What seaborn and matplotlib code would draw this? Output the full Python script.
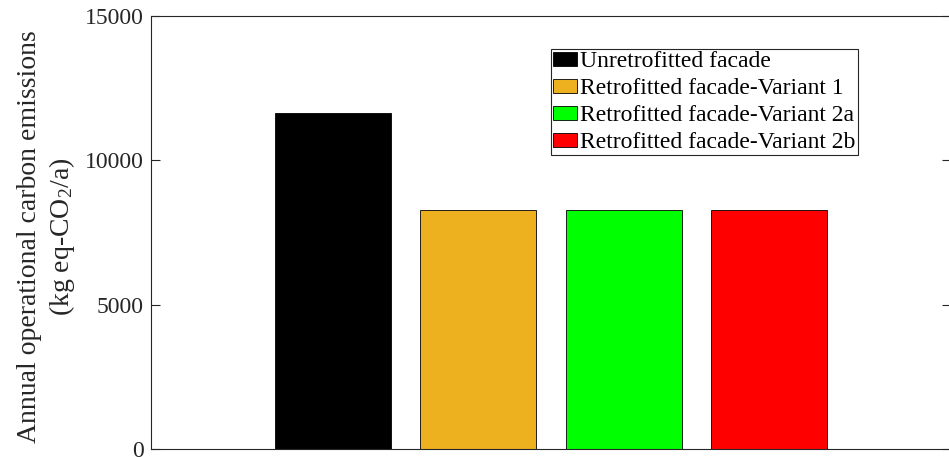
import matplotlib
matplotlib.use("Agg")
import matplotlib.pyplot as plt
import seaborn as sns
import pandas as pd

categories = [
    "Unretrofitted facade",
    "Retrofitted facade-Variant 1",
    "Retrofitted facade-Variant 2a",
    "Retrofitted facade-Variant 2b",
]
emissions = [11640, 8300, 8300, 8300]
colors = ["#000000", "#EDB120", "#00FF00", "#FF0000"]
yticks = [0, 5000, 10000, 15000]

sns.set_theme(style="white")
plt.rcParams["font.family"] = ["Liberation Serif", "DejaVu Serif"]
plt.rcParams["mathtext.fontset"] = "custom"
plt.rcParams["mathtext.rm"] = "Liberation Serif"
plt.rcParams["mathtext.it"] = "Liberation Serif:italic"

df = pd.DataFrame({"facade": categories, "emissions": emissions})

fig = plt.figure(figsize=(9.49, 4.57), dpi=100)
ax = fig.add_axes([151 / 949, 7.7 / 457, 800 / 949, 433.3 / 457])

sns.barplot(
    data=df, x="facade", y="emissions", hue="facade",
    palette=colors, width=0.8, dodge=False, legend=True,
    edgecolor="black", linewidth=0.6, saturation=1, ax=ax,
)

ax.set_xlim(-1.25, 4.25)
ax.set_ylim(0, 15000)
ax.set_yticks(yticks)
ax.set_yticklabels([str(t) for t in yticks])
ax.set_xticks([])
ax.set_xlabel("")
ax.set_ylabel("Annual operational carbon emissions\n(kg eq-CO$_2$/a)",
              fontsize=20, linespacing=1.2, labelpad=6, color="#262626")
ax.yaxis.label.set_y(0.49)

ax.tick_params(axis="y", direction="in", length=6.5, width=0.8,
               labelsize=17, pad=5, right=True, left=True, colors="#262626")
for s in ax.spines.values():
    s.set_visible(True)
    s.set_color("#262626")
    s.set_linewidth(0.8)

leg = ax.legend(
    loc="upper left", bbox_to_anchor=(551 / 949, 1 - 49 / 457),
    bbox_transform=fig.transFigure, fontsize=17, frameon=True,
    fancybox=False, shadow=False, framealpha=1, borderpad=0.1,
    handlelength=1.0, handleheight=0.55, handletextpad=0.12,
    labelspacing=0.25, borderaxespad=0,
)
leg.get_frame().set_edgecolor("#262626")
leg.get_frame().set_linewidth(0.8)
for t in leg.get_texts():
    t.set_color("black")

fig.savefig("out.png", dpi=100)
